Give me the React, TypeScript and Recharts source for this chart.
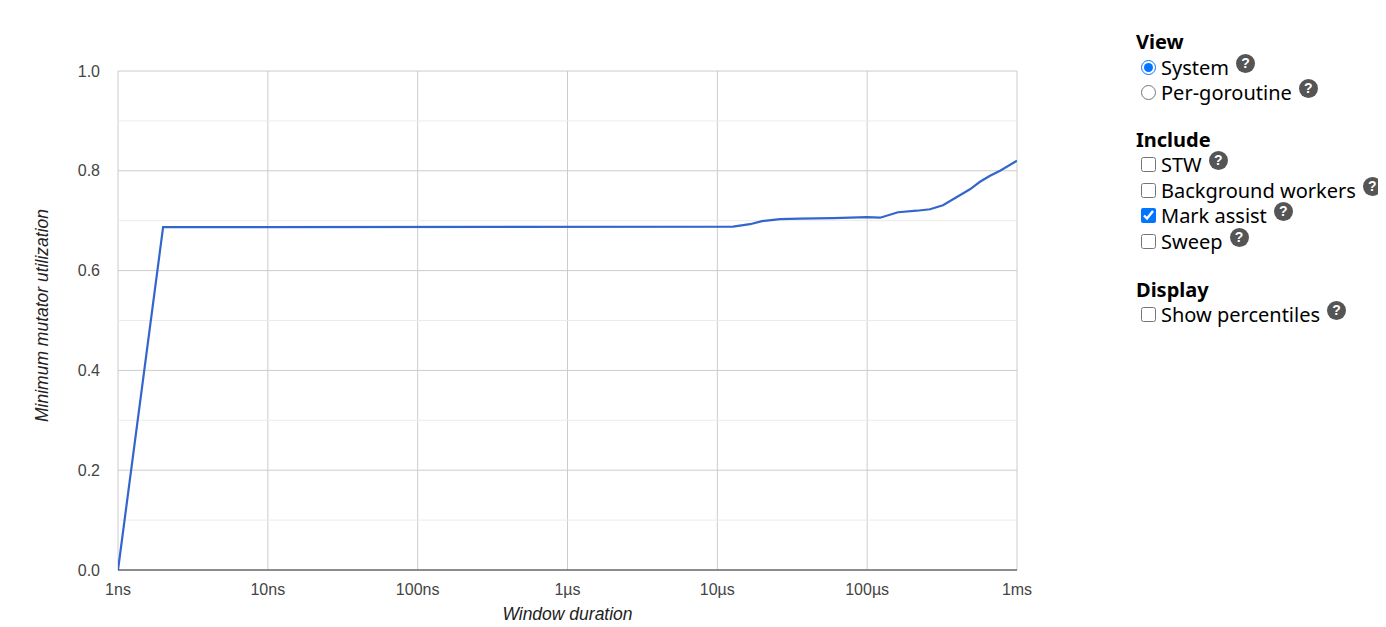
import React from "react";
import { LineChart, Line, XAxis, YAxis, CartesianGrid, ReferenceLine } from "recharts";

const durationsNs = [1, 2, 12735, 16520, 19860, 26180, 35650, 59160, 99310, 121900, 160700, 214300, 262400, 320600, 485300, 566200, 660700, 770900, 1000000];
const mmuValues = [0, 0.687, 0.688, 0.693, 0.699, 0.703, 0.704, 0.705, 0.707, 0.706, 0.717, 0.72, 0.723, 0.731, 0.763, 0.778, 0.79, 0.8, 0.82];
const xTicks = [1, 10, 100, 1000, 10000, 100000, 1000000];
const xTickLabels = ["1ns", "10ns", "100ns", "1µs", "10µs", "100µs", "1ms"];
const yTicks = [0, 0.2, 0.4, 0.6, 0.8, 1.0];
const yMinorTicks = [0.1, 0.3, 0.5, 0.7, 0.9];

const data = durationsNs.map((d, i) => ({ d, v: mmuValues[i] }));

const FONT = "Arial, 'Liberation Sans', sans-serif";
const UIFONT = "'Noto Sans', 'Open Sans', sans-serif";

type Row = { kind: "head" | "radio" | "check"; label: string; checked?: boolean; center: number; help?: boolean };
const rows: Row[] = [
  { kind: "head", label: "View", center: 41 },
  { kind: "radio", label: "System", checked: true, center: 67, help: true },
  { kind: "radio", label: "Per-goroutine", checked: false, center: 92, help: true },
  { kind: "head", label: "Include", center: 139 },
  { kind: "check", label: "STW", checked: false, center: 164, help: true },
  { kind: "check", label: "Background workers", checked: false, center: 190, help: true },
  { kind: "check", label: "Mark assist", checked: true, center: 215, help: true },
  { kind: "check", label: "Sweep", checked: false, center: 241, help: true },
  { kind: "head", label: "Display", center: 289 },
  { kind: "check", label: "Show percentiles", checked: false, center: 314, help: true },
];

function Help() {
  return (
    <span
      style={{
        display: "inline-flex",
        alignItems: "center",
        justifyContent: "center",
        width: 19,
        height: 19,
        borderRadius: "50%",
        background: "#555",
        color: "#fff",
        fontWeight: 700,
        fontSize: 14,
        marginLeft: 7,
        position: "relative",
        top: -4,
        fontFamily: FONT,
        flexShrink: 0,
      }}
    >
      ?
    </span>
  );
}

export default function App() {
  return (
    <div style={{ position: "relative", width: 1378, height: 619 }}>
      <style>{"html{overflow:hidden}"}</style>
      <div style={{ position: "absolute", left: 0, top: 0 }}>
        <LineChart
          width={1100}
          height={619}
          data={data}
          margin={{ top: 63, right: 91, left: 0, bottom: 27 }}
        >
          <CartesianGrid stroke="#cccccc" strokeWidth={1} horizontalValues={yTicks} verticalValues={xTicks} />
          {yMinorTicks.map((t) => (
            <ReferenceLine key={t} y={t} stroke="#ebebeb" strokeWidth={1} />
          ))}
          <XAxis
            dataKey="d"
            type="number"
            scale="log"
            domain={[1, 1000000]}
            ticks={xTicks}
            allowDataOverflow
            tickFormatter={(v: number) => xTickLabels[xTicks.indexOf(v)] ?? ""}
            tickLine={false}
            axisLine={{ stroke: "#333333", strokeWidth: 1 }}
            tickMargin={8}
            height={30}
            interval={0}
            tick={{ fill: "#444444", fontSize: 16, fontFamily: FONT }}
            label={{
              content: (p: any) => {
                const vb = p.viewBox || {};
                return (
                  <text
                    x={vb.x + vb.width / 2}
                    y={606}
                    textAnchor="middle"
                    dominantBaseline="central"
                    fontStyle="italic"
                    fontSize={17.5}
                    fontFamily={FONT}
                    fill="#222222"
                  >
                    Window duration
                  </text>
                );
              },
            }}
          />
          <YAxis
            type="number"
            domain={[0, 1]}
            ticks={yTicks}
            tickFormatter={(v: number) => v.toFixed(1)}
            tickLine={false}
            axisLine={false}
            tickMargin={12}
            width={110}
            interval={0}
            tick={{ fill: "#444444", fontSize: 16, fontFamily: FONT }}
            label={{
              content: (p: any) => {
                const vb = p.viewBox || {};
                const cx = 34;
                const cy = vb.y + vb.height / 2 - 5;
                return (
                  <text
                    x={cx}
                    y={cy}
                    transform={`rotate(-90 ${cx} ${cy})`}
                    textAnchor="middle"
                    dominantBaseline="central"
                    fontStyle="italic"
                    fontSize={17.5}
                    fontFamily={FONT}
                    fill="#222222"
                  >
                    Minimum mutator utilization
                  </text>
                );
              },
            }}
          />
          <Line
            dataKey="v"
            stroke="#3366cc"
            strokeWidth={2.2}
            dot={false}
            activeDot={false}
            isAnimationActive={false}
            type="linear"
          />
        </LineChart>
      </div>
      {rows.map((r, i) => (
        <div
          key={i}
          style={{
            position: "absolute",
            left: 1128,
            top: r.center - 13 - 8,
            height: 26,
            display: "flex",
            alignItems: "center",
            whiteSpace: "nowrap",
            fontFamily: UIFONT,
            fontSize: 20,
            color: "#000",
            fontWeight: r.kind === "head" ? 700 : 400,
          }}
        >
          {r.kind === "head" ? (
            <span>{r.label}</span>
          ) : (
            <>
              <input
                type={r.kind === "radio" ? "radio" : "checkbox"}
                defaultChecked={r.checked}
                style={{ width: 15, height: 15, margin: "0 5px 0 5px", flexShrink: 0 }}
              />
              <span>{r.label}</span>
              {r.help && <Help />}
            </>
          )}
        </div>
      ))}
    </div>
  );
}
